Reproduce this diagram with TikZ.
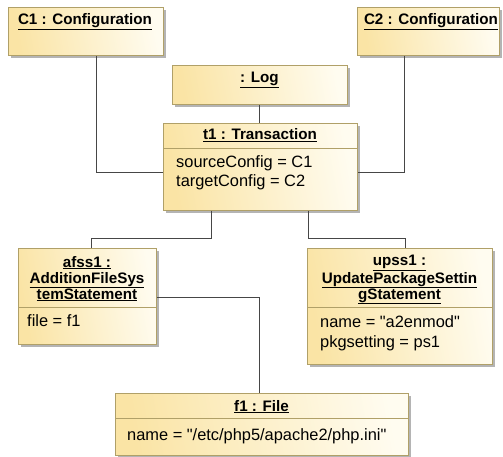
\documentclass[tikz,border=0pt]{standalone}
\usepackage{fontspec}
\setmainfont{Liberation Sans}[Ligatures=TeXOff]
\usetikzlibrary{shadows,calc}
\definecolor{boxline}{RGB}{176,160,104}
\definecolor{fillL}{RGB}{250,228,165}
\definecolor{fillR}{RGB}{255,252,240}
\definecolor{connc}{RGB}{70,70,70}
\definecolor{shadowc}{RGB}{180,180,180}
\tikzset{
  objbox/.style={draw=boxline, line width=0.9pt, left color=fillL, right color=fillR,
    shading angle=100, inner sep=0pt, anchor=north west,
    drop shadow={shadow xshift=2.5pt, shadow yshift=-2.5pt, fill=shadowc, opacity=1}},
  ttl/.style={font=\fontsize{15.2}{16}\selectfont\bfseries, anchor=base, inner sep=0pt, align=center},
  attr/.style={font=\fontsize{16.4}{19}\selectfont, anchor=base west, inner sep=0pt},
  sep/.style={draw=boxline, line width=0.9pt},
  conn/.style={draw=connc, line width=0.9pt}
}
\newcommand{\ul}[1]{\underline{#1}}
\begin{document}
\begin{tikzpicture}[x=1pt,y=-1pt]
\useasboundingbox (0,0) rectangle (503,457);
% boxes
\node[objbox, minimum width=155pt, minimum height=48pt] (c1) at (8,7) {};
\node[ttl] (c1t) at (85,25) {\ul{C1 : Configuration}};
\node[objbox, minimum width=142pt, minimum height=48pt] (c2) at (357,7) {};
\node[ttl] (c2t) at (431,25) {\ul{C2 : Configuration}};
\node[objbox, minimum width=175pt, minimum height=39pt] (log) at (172,65) {};
\node[ttl] (logt) at (259.5,83) {\ul{: Log}};
\node[objbox, minimum width=194pt, minimum height=87pt] (t1) at (163,123) {};
\node[ttl] (t1t) at (260,140) {\ul{t1 : Transaction}};
\draw[sep] (t1.west |- 0,148) -- (t1.east |- 0,148);
\node[attr] (t1a) at (176,168) {sourceConfig = C1};
\node[attr] (t1b) at (176,187) {targetConfig = C2};
\node[objbox, minimum width=138pt, minimum height=96pt] (afss) at (18,248) {};
\node[ttl] (afsst) at (87,299) {\ul{afss1 :}\\\ul{AdditionFileSys}\\\ul{temStatement}};
\draw[sep] (afss.west |- 0,307) -- (afss.east |- 0,307);
\node[attr] (afssa) at (27,326) {file = f1};
\node[objbox, minimum width=185pt, minimum height=116pt] (upss) at (307,248) {};
\node[ttl] (upsst) at (399.5,299) {\ul{upss1 :}\\\ul{UpdatePackageSettin}\\\ul{gStatement}};
\draw[sep] (upss.west |- 0,307) -- (upss.east |- 0,307);
\node[attr] (upssa) at (320,327) {name = "a2enmod"};
\node[attr] (upssb) at (320,347) {pkgsetting = ps1};
\node[objbox, minimum width=293pt, minimum height=62pt] (f1) at (115,393) {};
\node[ttl] (f1t) at (261.5,411) {\ul{f1 : File}};
\draw[sep] (f1.west |- 0,418) -- (f1.east |- 0,418);
\node[attr] (f1a) at (127,440) {name = "/etc/php5/apache2/php.ini"};
% connectors
\draw[conn] (c1.south -| 96,0) |- (t1.west |- 0,172);
\draw[conn] (c2.south -| 404,0) |- (t1.east |- 0,172);
\draw[conn] (log.south -| 259,0) -- (t1.north -| 259,0);
\draw[conn] (t1.south -| 211,0) -- (211,238) -| (afss.north -| 91,0);
\draw[conn] (t1.south -| 308,0) -- (308,238) -| (upss.north -| 405,0);
\draw[conn] (afss.east |- 0,297) -| (f1.north -| 259,0);
\end{tikzpicture}
\end{document}
